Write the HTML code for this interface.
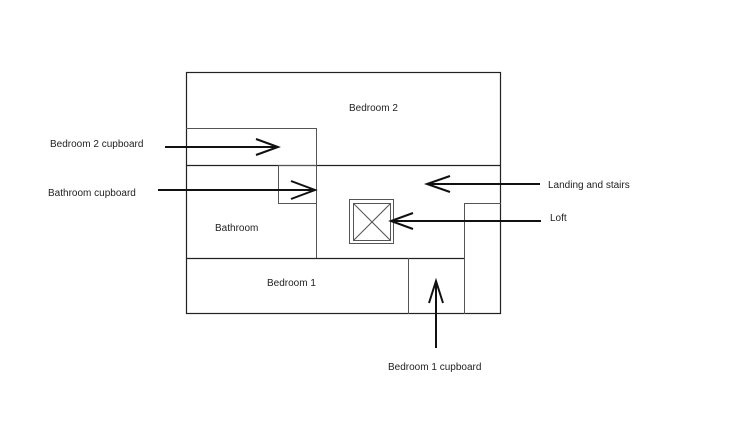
<!DOCTYPE html>
<html><head><meta charset="utf-8"><style>
html,body{margin:0;padding:0;background:#fff;}
svg{display:block;}
text{font-family:"Liberation Sans",Arial,sans-serif;font-size:10px;fill:#222;}
</style></head><body>
<svg width="744" height="433" viewBox="0 0 744 433" xmlns="http://www.w3.org/2000/svg">
<g fill="none" stroke="#222" stroke-width="1.2">
<rect x="186.5" y="72.5" width="314" height="241"/>
<line x1="186" y1="165.5" x2="501" y2="165.5"/>
<line x1="186" y1="258.5" x2="464" y2="258.5"/>
</g>
<g fill="none" stroke="#555" stroke-width="1">
<polyline points="186,128.5 316.5,128.5 316.5,258"/>
<rect x="278.5" y="165.5" width="38" height="38"/>
<line x1="408.5" y1="258" x2="408.5" y2="314"/>
<polyline points="464.5,314 464.5,203.5 501,203.5"/>
<rect x="349.5" y="199.5" width="44" height="44"/>
<rect x="353.5" y="203.5" width="37" height="37"/>
<line x1="353.5" y1="203.5" x2="390.5" y2="240.5"/>
<line x1="390.5" y1="203.5" x2="353.5" y2="240.5"/>
</g>
<g fill="none" stroke="#111" stroke-width="2">
<line x1="165" y1="147" x2="278" y2="147"/><polyline points="256,139 278,147 256,155"/>
<line x1="158" y1="190" x2="315" y2="190"/><polyline points="291,181 315,190 291,199"/>
<line x1="540" y1="184" x2="427" y2="184"/><polyline points="450,176 427,184 450,192"/>
<line x1="541" y1="221" x2="391" y2="221"/><polyline points="413,213 391,221 413,229"/>
<line x1="436" y1="348" x2="436" y2="281"/><polyline points="429,303 436,281 443,303"/>
</g>
<text x="349" y="111">Bedroom 2</text>
<text x="50" y="147">Bedroom 2 cupboard</text>
<text x="48" y="196">Bathroom cupboard</text>
<text x="215" y="231">Bathroom</text>
<text x="267" y="286">Bedroom 1</text>
<text x="548" y="188">Landing and stairs</text>
<text x="550" y="221">Loft</text>
<text x="388" y="370">Bedroom 1 cupboard</text>
</svg>
</body></html>
